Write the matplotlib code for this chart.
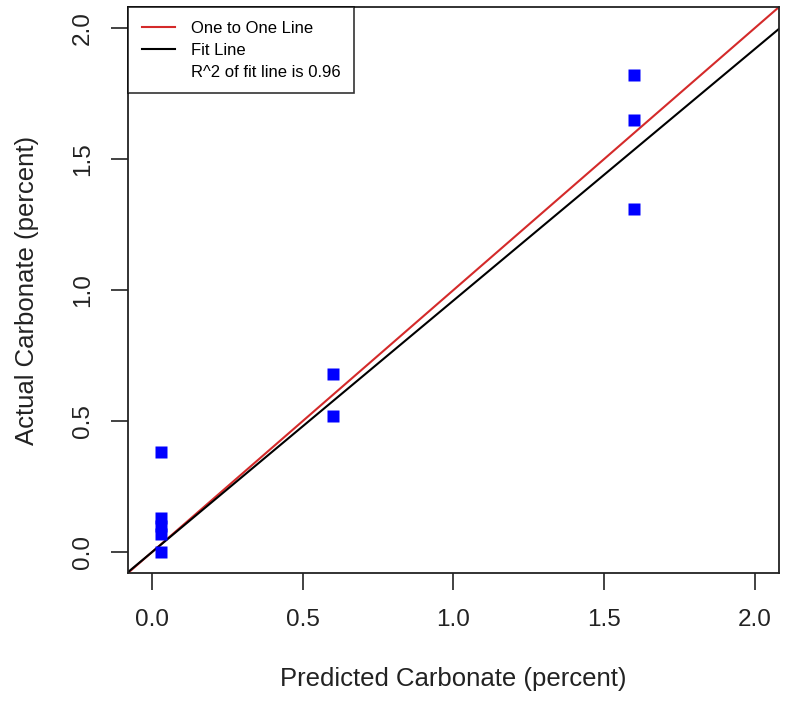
import matplotlib
matplotlib.use("Agg")
import matplotlib.pyplot as plt
from matplotlib.lines import Line2D

# predicted vs actual carbonate (percent)
predicted = [0.03, 0.03, 0.03, 0.03, 0.03, 0.60, 0.60, 1.60, 1.60, 1.60]
actual = [0.38, 0.13, 0.10, 0.07, 0.00, 0.68, 0.52, 1.82, 1.65, 1.31]

fit_intercept = 0.0
fit_slope = 0.96
r2_text = "R^2 of fit line is 0.96"
ticks = [0.0, 0.5, 1.0, 1.5, 2.0]
tick_labels = ["0.0", "0.5", "1.0", "1.5", "2.0"]

plt.rcParams['font.family'] = ['Liberation Sans', 'DejaVu Sans']

fig = plt.figure(figsize=(7.87, 7.04), dpi=100)
ax = fig.add_axes([0.1626, 0.1861, 0.8272, 0.8039])

ax.axline((0, 0), slope=1, color='#d42a2a', lw=1.5, zorder=2)
ax.axline((0, fit_intercept), slope=fit_slope, color='black', lw=1.5, zorder=2)
ax.plot(predicted, actual, 's', color='#0000ff', markersize=8.6, mec='none', zorder=3)

ax.set_xlim(-0.08, 2.08)
ax.set_ylim(-0.08, 2.08)
ax.set_xticks(ticks)
ax.set_xticklabels(tick_labels)
ax.set_yticks(ticks)
ax.set_yticklabels(tick_labels, rotation=90, va='center')
ax.tick_params(length=12, width=1.2, labelsize=17.5, colors='#222222')
ax.tick_params(axis='x', pad=14)
ax.tick_params(axis='y', pad=12.5)
for s in ax.spines.values():
    s.set_linewidth(1.3)
    s.set_color('#222222')

ax.set_xlabel("Predicted Carbonate (percent)", fontsize=18.5, labelpad=26, color='#222222')
ax.set_ylabel("Actual Carbonate (percent)", fontsize=18.5, labelpad=24, color='#222222')

handles = [
    Line2D([], [], color='#d42a2a', lw=1.5),
    Line2D([], [], color='black', lw=1.5),
    Line2D([], [], color='none'),
]
leg = ax.legend(handles, ["One to One Line", "Fit Line", r2_text],
                loc='upper left', bbox_to_anchor=(0, 1), fontsize=12,
                frameon=True, fancybox=False, edgecolor='black',
                borderaxespad=0, handlelength=2.0, handletextpad=0.96,
                labelspacing=0.42, borderpad=0.82)
leg.get_frame().set_linewidth(1.2)

fig.savefig("out.png", dpi=100)
